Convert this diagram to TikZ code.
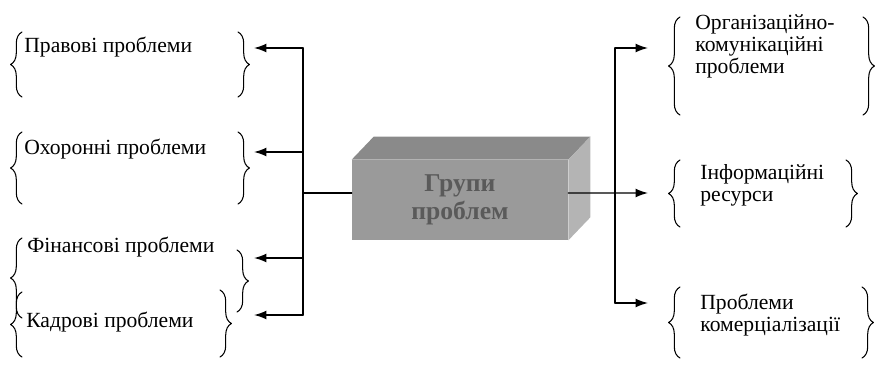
\documentclass[tikz,border=0pt]{standalone}
\usepackage{fontspec}
\setmainfont{Liberation Serif}
\usetikzlibrary{arrows.meta,decorations.pathreplacing}
\definecolor{boxfront}{HTML}{9A9A9A}
\definecolor{boxtop}{HTML}{8A8A8A}
\definecolor{boxside}{HTML}{B4B4B4}
\definecolor{boxtext}{HTML}{5A5A5A}
\begin{document}
\begin{tikzpicture}[x=0.02cm, y=-0.02cm, line join=round, line cap=round, >={Latex[length=7pt,width=5pt]},
  lbl/.style={font=\fontsize{12.3}{12.5}\selectfont, inner sep=0pt, align=left},
  brc/.style={decorate, decoration={brace, amplitude=6.5pt}, line width=0.6pt},
  lnk/.style={line width=0.8pt}]
\useasboundingbox (0,0) rectangle (879,366);
\def\dx{22}  % зсув глибини по x
\def\dy{-23} % зсув глибини по y
% --- Блок "Групи проблем" ---
\node[fill=boxfront, minimum width=4.32cm, minimum height=1.6cm, inner sep=0pt, align=center,
  text=boxtext, font=\fontsize{14.6}{16}\selectfont\bfseries] (grp) at (460,200) {Групи\\проблем};
\fill[boxtop] (grp.north west) -- ++(\dx,\dy) -- ([shift={(\dx,\dy)}]grp.north east) -- (grp.north east) -- cycle;
\fill[boxside] (grp.north east) -- ++(\dx,\dy) -- ([shift={(\dx,\dy)}]grp.south east) -- (grp.south east) -- cycle;

% --- Написи ---
\node[lbl, anchor=west] (prav) at (24,47) {Правові проблеми};
\node[lbl, anchor=west] (okhor) at (24,149) {Охоронні проблеми};
\node[lbl, anchor=west] (fin) at (27,247) {Фінансові проблеми};
\node[lbl, anchor=west] (kadr) at (26,322) {Кадрові проблеми};
\node[lbl, anchor=north west] (org) at (695,14) {Організаційно-\\комунікаційні\\проблеми};
\node[lbl, anchor=north west] (inf) at (700,164) {Інформаційні\\ресурси};
\node[lbl, anchor=north west] (kom) at (700,294) {Проблеми\\комерціалізації};

% --- Дужки ---
\foreach \x/\a/\b in {22/32/97, 22/132/204, 22/238/318, 22/292/357, 680/17/115, 680/160/227, 680/287/358}
  \draw[brc] (\x,\b) -- (\x,\a);
\foreach \x/\a/\b in {238/32/97, 238/132/204, 237/250/312, 220/290/357, 863/17/115, 846/160/227, 862/287/358}
  \draw[brc] (\x,\a) -- (\x,\b);

% --- Зв'язки ліворуч ---
\coordinate (lbus) at (303,0);
\coordinate (rbus) at (615,0);
\foreach \n/\y in {prav/48, okhor/152, fin/258, kadr/315}
  \coordinate (\n-in) at (254,\y);
\foreach \n/\y in {org/48, inf/193, kom/303}
  \coordinate (\n-in) at (648,\y);
\draw[lnk] (lbus |- prav-in) -- (lbus |- kadr-in);
\draw[lnk] ([yshift=0.14cm]grp.west) -- ([yshift=0.14cm]grp.west -| lbus);
\foreach \n in {prav, okhor, fin, kadr}
  \draw[lnk, ->] (lbus |- \n-in) -- (\n-in);
% --- Зв'язки праворуч ---
\draw[lnk] (rbus |- org-in) -- (rbus |- kom-in);
\draw[lnk, ->] ([yshift=0.14cm]grp.east) -- (inf-in);
\foreach \n in {org, kom}
  \draw[lnk, ->] (rbus |- \n-in) -- (\n-in);
\end{tikzpicture}
\end{document}
